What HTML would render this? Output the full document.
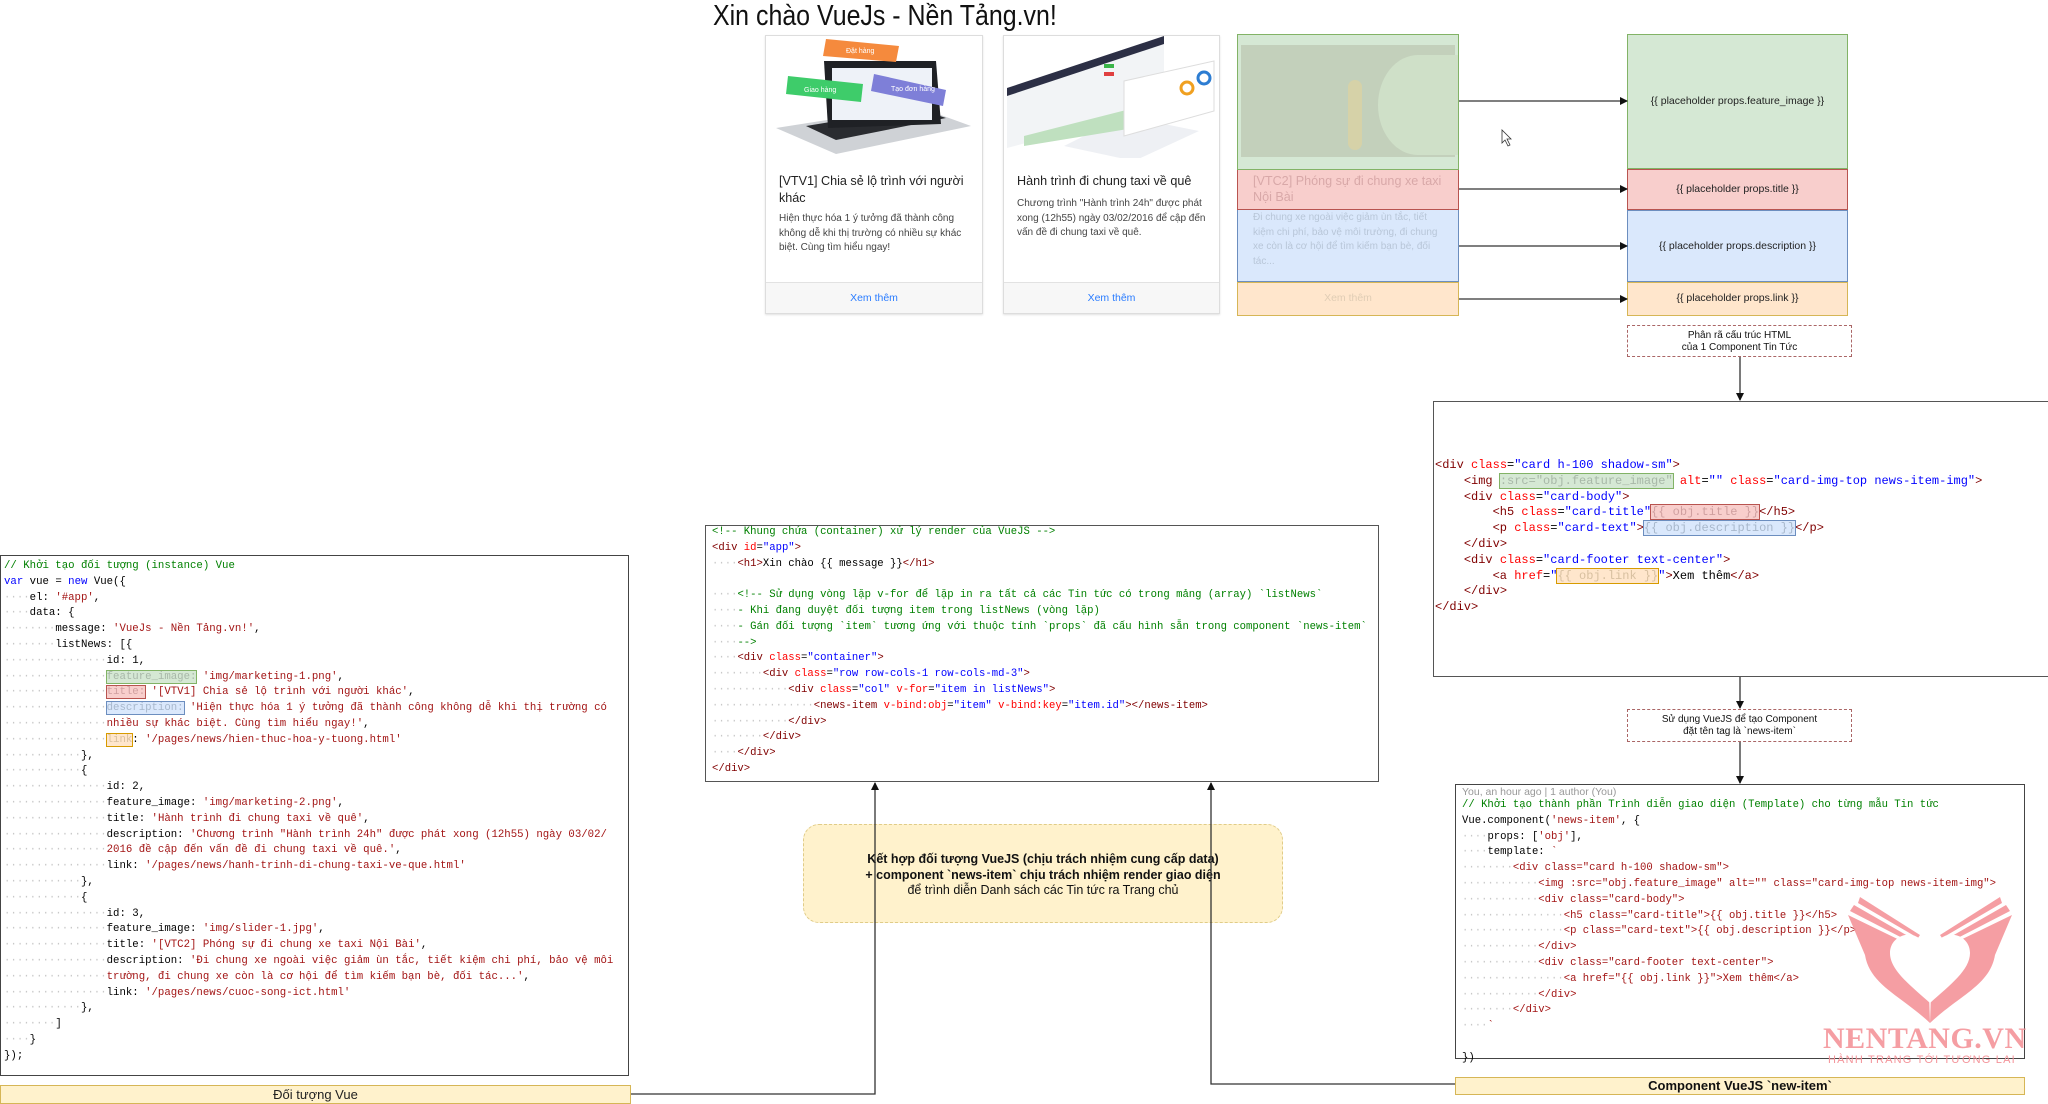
<!DOCTYPE html>
<html><head><meta charset="utf-8">
<style>
*{margin:0;padding:0;box-sizing:border-box}
body{width:2048px;height:1104px;background:#fff;position:relative;overflow:hidden;font-family:"Liberation Sans",sans-serif}
.abs{position:absolute}
.code{position:absolute;font-family:"Liberation Mono",monospace;white-space:pre;color:#000}
.d{color:#c8c8c8}
.c{color:#008000}
.k{color:#0000ff}
.s{color:#a31515}
.t{color:#800000}
.a{color:#ff0000}
.v{color:#0000ff}
.hg{background:#d5e8d4;outline:1.5px solid #82b366;color:#a8b8a8}
.hr{background:#f8cecc;outline:1.5px solid #b85450;color:#d0a0a0}
.hb{background:#dae8fc;outline:1.5px solid #6c8ebf;color:#a8b8cc}
.ho{background:#ffe6cc;outline:1.5px solid #d79b00;color:#d8c0a0}
.card{position:absolute;border:1px solid #ddd;background:#fff;box-shadow:0 1px 2px rgba(0,0,0,.12)}
.ct{position:absolute;font-size:12.6px;color:#222;line-height:17px}
.cd{position:absolute;font-size:10px;color:#444;line-height:14.6px}
.cf{position:absolute;left:0;right:0;bottom:0;height:31px;background:#f7f7f7;border-top:1px solid #e2e2e2;text-align:center;font-size:10.5px;color:#2a7cff;line-height:30px}
.ph{position:absolute;left:1627px;width:221px;font-size:10.5px;color:#222;text-align:center}
.dash{position:absolute;border:1.3px dashed #a66;background:#fff;text-align:center;font-size:10px;color:#111;line-height:12px}
</style></head><body>

<div class="abs" style="left:713px;top:0px;font-size:29px;color:#111;transform:scaleX(0.86);transform-origin:0 0;white-space:nowrap">Xin chào VueJs - Nền Tảng.vn!</div>

<!-- card 1 -->
<div class="card" style="left:765px;top:35px;width:218px;height:279px">
  <svg class="abs" style="left:0;top:0" width="216" height="122">
    <polygon points="10,92 150,70 205,90 70,118" fill="#cfd2d6"/>
    <polygon points="40,90 150,72 180,82 70,104" fill="#2a2c30"/>
    <polygon points="58,25 170,25 175,88 62,92" fill="#1f2125"/>
    <rect x="66" y="32" width="100" height="52" fill="#eef2f8"/>
    <polygon points="60,3 133,10 130,26 57,20" fill="#f58a3d"/>
    <polygon points="22,40 97,48 95,66 20,58" fill="#3ecc6a"/>
    <polygon points="108,38 180,54 177,70 105,55" fill="#7e7fd8"/>
    <text x="80" y="17" font-size="7" fill="#fff" font-family="Liberation Sans">Đặt hàng</text>
    <text x="38" y="56" font-size="7" fill="#fff" font-family="Liberation Sans">Giao hàng</text>
    <text x="125" y="55" font-size="7" fill="#fff" font-family="Liberation Sans">Tạo đơn hàng</text>
  </svg>
  <div class="ct" style="left:13px;top:137px;width:200px">[VTV1] Chia sẻ lộ trình với người khác</div>
  <div class="cd" style="left:13px;top:176px;width:200px">Hiện thực hóa 1 ý tưởng đã thành công không dễ khi thị trường có nhiều sự khác biệt. Cùng tìm hiểu ngay!</div>
  <div class="cf">Xem thêm</div>
</div>

<!-- card 2 -->
<div class="card" style="left:1003px;top:35px;width:217px;height:279px">
  <svg class="abs" style="left:0;top:0" width="216" height="122">
    <polygon points="3,52 160,0 160,70 3,112" fill="#f2f4f6"/>
    <polygon points="3,52 160,0 160,8 3,60" fill="#2c2f45"/>
    <polygon points="60,110 120,80 195,95 130,125" fill="#eef0f4"/>
    <polygon points="20,100 130,72 130,92 20,110" fill="#bfe0bf"/>
    <polygon points="120,45 210,25 210,75 120,100" fill="#ffffff" stroke="#ddd"/>
    <circle cx="183" cy="52" r="6" fill="none" stroke="#f0a020" stroke-width="3"/>
    <circle cx="200" cy="42" r="6" fill="none" stroke="#2d7dd2" stroke-width="3"/>
    <rect x="100" y="28" width="10" height="4" fill="#3cb54a"/><rect x="100" y="36" width="10" height="4" fill="#e04040"/>
  </svg>
  <div class="ct" style="left:13px;top:137px;width:200px">Hành trình đi chung taxi về quê</div>
  <div class="cd" style="left:13px;top:161px;width:200px">Chương trình "Hành trình 24h" được phát xong (12h55) ngày 03/02/2016 để cập đến vấn đề đi chung taxi về quê.</div>
  <div class="cf">Xem thêm</div>
</div>

<!-- card 3 highlighted -->
<div class="abs" style="left:1237px;top:34px;width:222px;height:136px;background:#d5e8d4;border:1.5px solid #82b366">
  <div class="abs" style="left:3px;top:10px;width:214px;height:112px;background:#c3d0bb"></div>
  <div class="abs" style="left:140px;top:20px;width:80px;height:100px;border-radius:50% 0 0 50%;background:#cfe0c8"></div>
  <div class="abs" style="left:110px;top:45px;width:14px;height:70px;border-radius:7px;background:#d6d2a8"></div>
</div>
<div class="abs" style="left:1237px;top:170px;width:222px;height:40px;background:#f8cecc;border:1.5px solid #b85450;border-top:none;font-size:12.6px;color:#d8a8a8;padding:3px 12px 0 15px;line-height:16px">[VTC2] Phóng sự đi chung xe taxi Nội Bài</div>
<div class="abs" style="left:1237px;top:210px;width:222px;height:72px;background:#dae8fc;border:1.5px solid #6c8ebf;border-top:none;font-size:10px;color:#b8c6d8;padding:1px 12px 0 15px;line-height:14.6px">Đi chung xe ngoài việc giảm ùn tắc, tiết kiệm chi phí, bảo vệ môi trường, đi chung xe còn là cơ hội để tìm kiếm bạn bè, đối tác...</div>
<div class="abs" style="left:1237px;top:282px;width:222px;height:34px;background:#ffe6cc;border:1.5px solid #d6b656;text-align:center;font-size:10.5px;color:#e0cdb5;line-height:31px">Xem thêm</div>

<!-- placeholders -->
<div class="ph" style="top:34px;height:135px;background:#d5e8d4;border:1.5px solid #82b366;line-height:132px">{{ placeholder props.feature_image }}</div>
<div class="ph" style="top:169px;height:41px;background:#f8cecc;border:1.5px solid #b85450;line-height:38px">{{ placeholder props.title }}</div>
<div class="ph" style="top:210px;height:72px;background:#dae8fc;border:1.5px solid #6c8ebf;line-height:70px">{{ placeholder props.description }}</div>
<div class="ph" style="top:282px;height:34px;background:#ffe6cc;border:1.5px solid #d6b656;line-height:31px">{{ placeholder props.link }}</div>

<div class="dash" style="left:1627px;top:325px;width:225px;height:32px;padding-top:4px">Phân rã cấu trúc HTML<br>của 1 Component Tin Tức</div>
<div class="dash" style="left:1627px;top:709px;width:225px;height:33px;padding-top:4px">Sử dụng VueJS để tạo Component<br>đặt tên tag là `news-item`</div>

<!-- HTML box -->
<div class="abs" style="left:1433px;top:401px;width:620px;height:276px;border:1.5px solid #555"></div>
<div class="code" style="left:1435px;top:458px;font-size:12px;line-height:15.8px"><span class="t">&lt;div</span> <span class="a">class</span>=<span class="v">"card h-100 shadow-sm"</span><span class="t">&gt;</span>
    <span class="t">&lt;img</span> <span class="hg">:src="obj.feature_image"</span> <span class="a">alt</span>=<span class="v">""</span> <span class="a">class</span>=<span class="v">"card-img-top news-item-img"</span><span class="t">&gt;</span>
    <span class="t">&lt;div</span> <span class="a">class</span>=<span class="v">"card-body"</span><span class="t">&gt;</span>
        <span class="t">&lt;h5</span> <span class="a">class</span>=<span class="v">"card-title"</span><span class="hr">{{ obj.title }}</span><span class="t">&lt;/h5&gt;</span>
        <span class="t">&lt;p</span> <span class="a">class</span>=<span class="v">"card-text"</span><span class="t">&gt;</span><span class="hb">{{ obj.description }}</span><span class="t">&lt;/p&gt;</span>
    <span class="t">&lt;/div&gt;</span>
    <span class="t">&lt;div</span> <span class="a">class</span>=<span class="v">"card-footer text-center"</span><span class="t">&gt;</span>
        <span class="t">&lt;a</span> <span class="a">href</span>=<span class="v">"</span><span class="ho">{{ obj.link }}</span><span class="v">"</span><span class="t">&gt;</span>Xem thêm<span class="t">&lt;/a&gt;</span>
    <span class="t">&lt;/div&gt;</span>
<span class="t">&lt;/div&gt;</span></div>

<!-- Left Vue box -->
<div class="abs" style="left:0;top:555px;width:629px;height:521px;border:1.5px solid #444"></div>
<div class="code" style="left:4px;top:559px;font-size:10.7px;line-height:15.8px"><span class="c">// Khởi tạo đối tượng (instance) Vue</span>
<span class="k">var</span> vue = <span class="k">new</span> Vue({
<span class="d">····</span>el: <span class="s">'#app'</span>,
<span class="d">····</span>data: {
<span class="d">········</span>message: <span class="s">'VueJs - Nền Tảng.vn!'</span>,
<span class="d">········</span>listNews: [{
<span class="d">················</span>id: 1,
<span class="d">················</span><span class="hg">feature_image:</span> <span class="s">'img/marketing-1.png'</span>,
<span class="d">················</span><span class="hr">title:</span> <span class="s">'[VTV1] Chia sẻ lộ trình với người khác'</span>,
<span class="d">················</span><span class="hb">description:</span> <span class="s">'Hiện thực hóa 1 ý tưởng đã thành công không dễ khi thị trường có</span>
<span class="d">················</span><span class="s">nhiều sự khác biệt. Cùng tìm hiểu ngay!'</span>,
<span class="d">················</span><span class="ho">link</span>: <span class="s">'/pages/news/hien-thuc-hoa-y-tuong.html'</span>
<span class="d">············</span>},
<span class="d">············</span>{
<span class="d">················</span>id: 2,
<span class="d">················</span>feature_image: <span class="s">'img/marketing-2.png'</span>,
<span class="d">················</span>title: <span class="s">'Hành trình đi chung taxi về quê'</span>,
<span class="d">················</span>description: <span class="s">'Chương trình "Hành trình 24h" được phát xong (12h55) ngày 03/02/</span>
<span class="d">················</span><span class="s">2016 đề cập đến vấn đề đi chung taxi về quê.'</span>,
<span class="d">················</span>link: <span class="s">'/pages/news/hanh-trinh-di-chung-taxi-ve-que.html'</span>
<span class="d">············</span>},
<span class="d">············</span>{
<span class="d">················</span>id: 3,
<span class="d">················</span>feature_image: <span class="s">'img/slider-1.jpg'</span>,
<span class="d">················</span>title: <span class="s">'[VTC2] Phóng sự đi chung xe taxi Nội Bài'</span>,
<span class="d">················</span>description: <span class="s">'Đi chung xe ngoài việc giảm ùn tắc, tiết kiệm chi phí, bảo vệ môi</span>
<span class="d">················</span><span class="s">trường, đi chung xe còn là cơ hội để tìm kiếm bạn bè, đối tác...'</span>,
<span class="d">················</span>link: <span class="s">'/pages/news/cuoc-song-ict.html'</span>
<span class="d">············</span>},
<span class="d">········</span>]
<span class="d">····</span>}
});</div>
<div class="abs" style="left:0;top:1085px;width:631px;height:19px;background:#fff2cc;border:1.5px solid #d6b656;text-align:center;font-size:13px;line-height:17px;color:#222">Đối tượng Vue</div>

<!-- middle box -->
<div class="abs" style="left:705px;top:525px;width:674px;height:257px;border:1.5px solid #555"></div>
<div class="code" style="left:712px;top:525px;font-size:10.6px;line-height:15.8px"><span class="c">&lt;!-- Khung chứa (container) xử lý render của VueJS --&gt;</span>
<span class="t">&lt;div</span> <span class="a">id</span>=<span class="v">"app"</span><span class="t">&gt;</span>
<span class="d">····</span><span class="t">&lt;h1&gt;</span>Xin chào {{ message }}<span class="t">&lt;/h1&gt;</span>

<span class="d">····</span><span class="c">&lt;!-- Sử dụng vòng lặp v-for để lặp in ra tất cả các Tin tức có trong mảng (array) `listNews`</span>
<span class="d">····</span><span class="c">- Khi đang duyệt đối tượng item trong listNews (vòng lặp)</span>
<span class="d">····</span><span class="c">- Gán đối tượng `item` tương ứng với thuộc tính `props` đã cấu hình sẵn trong component `news-item`</span>
<span class="d">····</span><span class="c">--&gt;</span>
<span class="d">····</span><span class="t">&lt;div</span> <span class="a">class</span>=<span class="v">"container"</span><span class="t">&gt;</span>
<span class="d">········</span><span class="t">&lt;div</span> <span class="a">class</span>=<span class="v">"row row-cols-1 row-cols-md-3"</span><span class="t">&gt;</span>
<span class="d">············</span><span class="t">&lt;div</span> <span class="a">class</span>=<span class="v">"col"</span> <span class="a">v-for</span>=<span class="v">"item in listNews"</span><span class="t">&gt;</span>
<span class="d">················</span><span class="t">&lt;news-item</span> <span class="a">v-bind:obj</span>=<span class="v">"item"</span> <span class="a">v-bind:key</span>=<span class="v">"item.id"</span><span class="t">&gt;&lt;/news-item&gt;</span>
<span class="d">············</span><span class="t">&lt;/div&gt;</span>
<span class="d">········</span><span class="t">&lt;/div&gt;</span>
<span class="d">····</span><span class="t">&lt;/div&gt;</span>
<span class="t">&lt;/div&gt;</span></div>

<!-- yellow note -->
<div class="abs" style="left:803px;top:824px;width:480px;height:99px;background:#fff2cc;border:1.3px dashed #e0cc88;border-radius:16px;text-align:center;font-size:12.5px;line-height:15.5px;color:#111;padding-top:27px"><b>Kết hợp đối tượng VueJS (chịu trách nhiệm cung cấp data)<br>+ component `news-item` chịu trách nhiệm render giao diện</b><br>để trình diễn Danh sách các Tin tức ra Trang chủ</div>

<!-- component box -->
<div class="abs" style="left:1455px;top:784px;width:570px;height:275px;border:1.5px solid #444"></div>
<div class="abs" style="left:1462px;top:784px;font-size:10.5px;color:#999;line-height:16px">You, an hour ago | 1 author (You)</div>
<div class="code" style="left:1462px;top:798px;font-size:10.6px;line-height:15.8px"><span class="c">// Khởi tạo thành phần Trình diễn giao diện (Template) cho từng mẫu Tin tức</span>
Vue.component(<span class="s">'news-item'</span>, {
<span class="d">····</span>props: [<span class="s">'obj'</span>],
<span class="d">····</span>template: <span class="s">`</span>
<span class="d">········</span><span class="s">&lt;div class="card h-100 shadow-sm"&gt;</span>
<span class="d">············</span><span class="s">&lt;img :src="obj.feature_image" alt="" class="card-img-top news-item-img"&gt;</span>
<span class="d">············</span><span class="s">&lt;div class="card-body"&gt;</span>
<span class="d">················</span><span class="s">&lt;h5 class="card-title"&gt;{{ obj.title }}&lt;/h5&gt;</span>
<span class="d">················</span><span class="s">&lt;p class="card-text"&gt;{{ obj.description }}&lt;/p&gt;</span>
<span class="d">············</span><span class="s">&lt;/div&gt;</span>
<span class="d">············</span><span class="s">&lt;div class="card-footer text-center"&gt;</span>
<span class="d">················</span><span class="s">&lt;a href="{{ obj.link }}"&gt;Xem thêm&lt;/a&gt;</span>
<span class="d">············</span><span class="s">&lt;/div&gt;</span>
<span class="d">········</span><span class="s">&lt;/div&gt;</span>
<span class="d">····</span><span class="s">`</span>

})</div>
<div class="abs" style="left:1455px;top:1077px;width:570px;height:18px;background:#fff2cc;border:1.5px solid #d6b656;text-align:center;font-size:13px;font-weight:bold;line-height:16px;color:#111">Component VueJS `new-item`</div>

<!-- watermark -->
<svg class="abs" style="left:1840px;top:895px" width="180" height="130" viewBox="0 0 180 130">
  <g fill="#f4949a" opacity="0.9">
    <path d="M90,128 C60,100 30,90 25,60 L8,20 L70,50 L88,70 Z"/>
    <path d="M90,128 C120,100 150,90 155,60 L172,20 L110,50 L92,70 Z"/>
    <path d="M14,10 L75,45 L72,48 L10,16Z"/><path d="M20,2 L80,40 L78,43 L18,8Z"/>
    <path d="M166,10 L105,45 L108,48 L170,16Z"/><path d="M160,2 L100,40 L102,43 L162,8Z"/>
  </g>
  <path d="M90,108 C70,90 50,75 50,58 C50,45 62,38 72,40 C80,42 86,48 90,55 C94,48 100,42 108,40 C118,38 130,45 130,58 C130,75 110,90 90,108Z" fill="#fff"/>
</svg>
<div class="abs" style="left:1823px;top:1022px;font-family:'Liberation Serif',serif;font-weight:bold;font-size:30px;color:#f4949a;opacity:.9;letter-spacing:0.5px;white-space:nowrap">NENTANG.VN</div>
<div class="abs" style="left:1828px;top:1054px;font-size:11px;color:#f4949a;letter-spacing:1.2px;white-space:nowrap">HÀNH TRANG TỚI TƯƠNG LAI</div>

<!-- connectors -->
<svg class="abs" style="left:0;top:0" width="2048" height="1104">
  <defs><marker id="ar" markerWidth="8" markerHeight="8" refX="7" refY="4" orient="auto" markerUnits="userSpaceOnUse"><path d="M0,0 L8,4 L0,8 Z" fill="#111"/></marker></defs>
  <g stroke="#333" stroke-width="1.3" fill="none" marker-end="url(#ar)">
    <line x1="1459" y1="101" x2="1627" y2="101"/>
    <line x1="1459" y1="189" x2="1627" y2="189"/>
    <line x1="1459" y1="246" x2="1627" y2="246"/>
    <line x1="1459" y1="299" x2="1627" y2="299"/>
    <line x1="1740" y1="357" x2="1740" y2="400"/>
    <line x1="1740" y1="677" x2="1740" y2="708"/>
    <line x1="1740" y1="742" x2="1740" y2="783"/>
    <polyline points="631,1094 875,1094 875,783"/>
    <polyline points="1455,1084 1211,1084 1211,783"/>
  </g>
  <path d="M1502,130 L1502,143 L1505,140 L1508,146 L1510,145 L1507,139 L1511,139 Z" fill="#fff" stroke="#333" stroke-width="0.8"/>
</svg>
</body></html>
